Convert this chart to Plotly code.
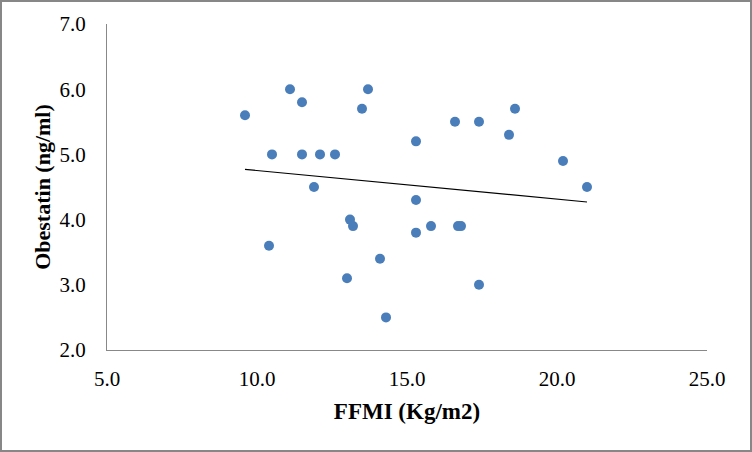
import plotly.graph_objects as go

ffmi = [9.6, 11.1, 11.5, 10.5, 11.5, 12.1, 12.6, 11.9, 10.4, 13.1, 13.2, 13.0, 13.5, 13.7,
        14.1, 14.3, 15.3, 15.3, 15.3, 15.8, 16.6, 17.4, 16.7, 16.8, 17.4, 18.6, 18.4, 20.2, 21.0]
obestatin = [5.6, 6.0, 5.8, 5.0, 5.0, 5.0, 5.0, 4.5, 3.6, 4.0, 3.9, 3.1, 5.7, 6.0,
             3.4, 2.5, 5.2, 4.3, 3.8, 3.9, 5.5, 5.5, 3.9, 3.9, 3.0, 5.7, 5.3, 4.9, 4.5]
trend_x = [9.6, 21.0]
trend_y = [4.77, 4.27]
x_ticks = [5.0, 10.0, 15.0, 20.0, 25.0]
y_ticks = [2.0, 3.0, 4.0, 5.0, 6.0, 7.0]

fig = go.Figure()
fig.add_trace(go.Scatter(x=ffmi, y=obestatin, mode="markers",
                         marker=dict(size=10, color="#4A7EBB"), showlegend=False))
fig.add_trace(go.Scatter(x=trend_x, y=trend_y, mode="lines",
                         line=dict(color="black", width=1.2), showlegend=False))

font = "Liberation Serif, Times New Roman, serif"
L, R, T, B = 107, 45, 24, 102
W, H = 752, 452
pw, ph = W - L - R, H - T - B

fig.update_layout(
    width=W, height=H,
    margin=dict(l=L, r=R, t=T, b=B, pad=0),
    paper_bgcolor="white", plot_bgcolor="white",
    font=dict(family=font, size=21, color="black"),
    xaxis=dict(range=[5, 25], tickvals=x_ticks, ticktext=[f"{v:.1f}" for v in x_ticks],
               showgrid=False, zeroline=False, showline=True, linecolor="#888888",
               linewidth=1, ticks="", ticklabelstandoff=10,
               title=dict(text="<b>FFMI (Kg/m2)</b>", font=dict(size=23), standoff=12)),
    yaxis=dict(range=[2, 7], tickvals=y_ticks, ticktext=[f"{v:.1f}" for v in y_ticks],
               showgrid=False, zeroline=False, showline=True, linecolor="#888888",
               linewidth=1, ticks="", ticklabelstandoff=16,
               title=dict(text="<b>Obestatin (ng/ml)</b>", font=dict(size=22), standoff=2)),
    shapes=[dict(type="rect", xref="paper", yref="paper",
                 x0=(1 - L) / pw, x1=(751 - L) / pw,
                 y0=(H - B - 451) / ph, y1=(H - B - 1) / ph,
                 line=dict(color="#878787", width=2), layer="above")],
)
fig.write_html("out.html", config={"displayModeBar": False},
               post_script="document.body.style.margin='0';")
